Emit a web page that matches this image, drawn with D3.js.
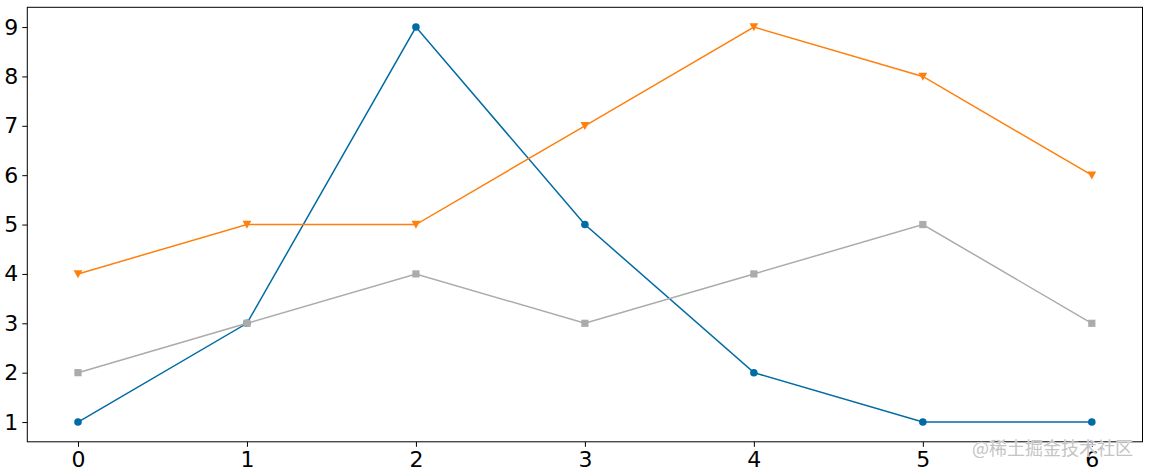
<!DOCTYPE html>
<html>
<head>
<meta charset="utf-8">
<script src="https://cdn.jsdelivr.net/npm/d3@7"></script>
<style>
  body { margin: 0; background: #fff; }
  svg { display: block; }
</style>
</head>
<body>
<svg id="chart" width="1150" height="475"></svg>
<script>
/* global d3 */

const xTicks = [0, 1, 2, 3, 4, 5, 6]
const yTicks = [1, 2, 3, 4, 5, 6, 7, 8, 9]
const blueValues = [1, 3, 9, 5, 2, 1, 1]
const orangeValues = [4, 5, 5, 7, 9, 8, 6]
const grayValues = [2, 3, 4, 3, 4, 5, 3]

const series = [
  { name: 'blue', values: blueValues, color: '#006BA4', marker: 'circle' },
  { name: 'orange', values: orangeValues, color: '#FF800E', marker: 'triangleDown' },
  { name: 'gray', values: grayValues, color: '#ABABAB', marker: 'square' }
]

const box = { left: 27.3, top: 7.3, right: 1142.5, bottom: 441.8 }

const svg = d3.select('#chart')

const x = d3.scaleLinear().domain([-0.3, 6.3]).range([box.left, box.right])
const y = d3.scaleLinear().domain([0.6, 9.4]).range([box.bottom, box.top])

const fontFamily = 'DejaVu Sans, sans-serif'
const tickFont = 22

// x axis
const xAxis = svg.append('g')
  .attr('transform', 'translate(0,' + box.bottom + ')')
  .call(d3.axisBottom(x).tickValues(xTicks).tickSize(5).tickPadding(4.5).tickFormat(d3.format('d')))
xAxis.select('.domain').remove()
xAxis.selectAll('line').attr('stroke', '#000').attr('stroke-width', 1)
xAxis.selectAll('text')
  .style('font-family', fontFamily)
  .style('font-size', tickFont + 'px')
  .attr('fill', '#000')

// y axis
const yAxis = svg.append('g')
  .attr('transform', 'translate(' + box.left + ',0)')
  .call(d3.axisLeft(y).tickValues(yTicks).tickSize(5).tickPadding(4).tickFormat(d3.format('d')))
yAxis.select('.domain').remove()
yAxis.selectAll('line').attr('stroke', '#000').attr('stroke-width', 1)
yAxis.selectAll('text')
  .style('font-family', fontFamily)
  .style('font-size', tickFont + 'px')
  .attr('fill', '#000')

// lines and markers
const line = d3.line()
  .x((d, i) => x(xTicks[i]))
  .y(d => y(d))

series.forEach(function (s) {
  const g = svg.append('g')
  g.append('path')
    .datum(s.values)
    .attr('d', line)
    .attr('fill', 'none')
    .attr('stroke', s.color)
    .attr('stroke-width', 1.5)

  const pts = g.selectAll('.pt')
    .data(s.values)
    .enter()
  if (s.marker === 'circle') {
    pts.append('circle')
      .attr('cx', (d, i) => x(xTicks[i]))
      .attr('cy', d => y(d))
      .attr('r', 3.8)
      .attr('fill', s.color)
  } else if (s.marker === 'square') {
    pts.append('rect')
      .attr('x', (d, i) => x(xTicks[i]) - 3.6)
      .attr('y', d => y(d) - 3.6)
      .attr('width', 7.2)
      .attr('height', 7.2)
      .attr('fill', s.color)
  } else {
    pts.append('path')
      .attr('d', function (d, i) {
        const cx = x(xTicks[i])
        const cy = y(d)
        return 'M' + (cx - 4.4) + ',' + (cy - 3.7) + 'L' + (cx + 4.4) + ',' + (cy - 3.7) + 'L' + cx + ',' + (cy + 4.2) + 'Z'
      })
      .attr('fill', s.color)
  }
})

// frame
svg.append('rect')
  .attr('x', box.left)
  .attr('y', box.top)
  .attr('width', box.right - box.left)
  .attr('height', box.bottom - box.top)
  .attr('fill', 'none')
  .attr('stroke', '#000')
  .attr('stroke-width', 1)

// watermark
svg.append('text')
  .text('@稀土掘金技术社区')
  .attr('x', 1133)
  .attr('y', 455)
  .attr('text-anchor', 'end')
  .style('font-family', 'Noto Sans CJK SC, sans-serif')
  .style('font-size', '18px')
  .attr('fill', '#c4c4c4')
  .attr('stroke', '#ffffff')
  .attr('stroke-width', 0.6)
  .attr('paint-order', 'stroke')
</script>
</body>
</html>
